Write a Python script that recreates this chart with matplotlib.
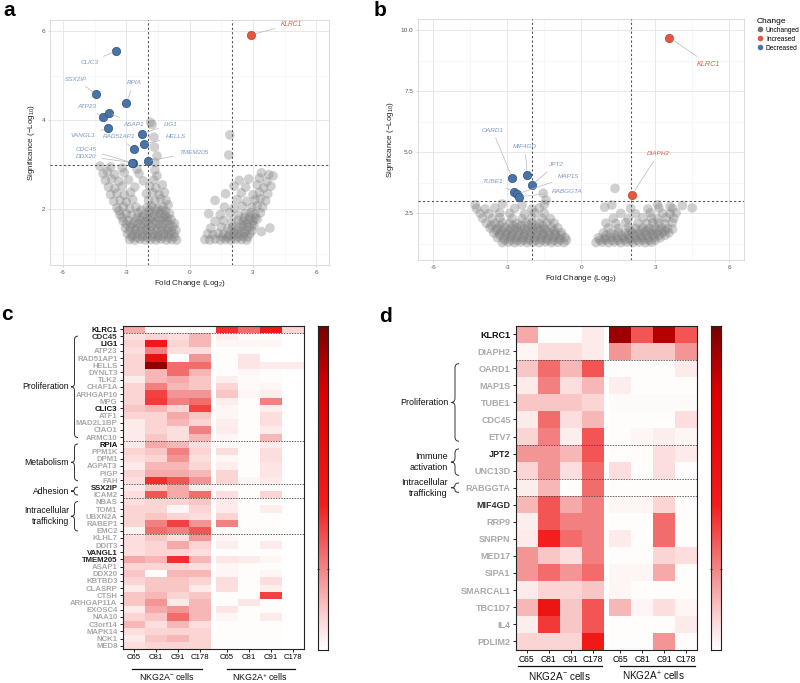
import numpy as np
import matplotlib
matplotlib.use("Agg")
import matplotlib.pyplot as plt
import matplotlib.transforms as mtransforms
from matplotlib.colors import LinearSegmentedColormap, FuncNorm
from matplotlib.path import Path
from matplotlib.patches import PathPatch
from matplotlib.lines import Line2D

plt.rcParams['font.family'] = ['Liberation Sans', 'DejaVu Sans']
plt.rcParams['mathtext.fontset'] = 'custom'
plt.rcParams['mathtext.rm'] = 'Liberation Sans'
plt.rcParams['mathtext.it'] = 'Liberation Sans:italic'
plt.rcParams['mathtext.bf'] = 'Liberation Sans:bold'

# ---------------- DATA: volcano a ----------------
a_genes = ['KLRC1', 'CLIC3', 'SSX2IP', 'RPIA', 'ATP23', 'ASAP1', 'VANGL1', 'LIG1',
           'HELLS', 'RAD51AP1', 'CDC45', 'DDX20', 'TMEM205']
a_fc = [2.91, -3.49, -4.44, -3.00, -4.10, -3.84, -3.89, -2.26, -2.18, -2.65, -2.70, -2.72, -2.00]
a_sig = [5.92, 5.56, 4.58, 4.39, 4.07, 4.17, 3.82, 3.70, 3.46, 3.35, 3.04, 3.05, 3.08]
a_change = ['Increased'] + ['Decreased'] * 12
a_gray = [
    (-2.85, 1.32), (-2.6, 1.31), (-2.35, 1.33), (-2.1, 1.31), (-1.85, 1.32), (-1.6, 1.31), (-1.35, 1.33),
    (-1.1, 1.31), (-0.85, 1.32), (-0.62, 1.31),
    (-2.75, 1.38), (-2.5, 1.37), (-2.25, 1.39), (-2.0, 1.37), (-1.75, 1.38), (-1.5, 1.37), (-1.25, 1.39),
    (-1.0, 1.37), (-0.72, 1.38),
    (-2.95, 1.45), (-2.72, 1.42), (-2.48, 1.46), (-2.22, 1.43), (-1.98, 1.47), (-1.72, 1.44), (-1.48, 1.42),
    (-1.22, 1.46), (-0.98, 1.43), (-0.75, 1.45),
    (-2.85, 1.52), (-2.6, 1.53), (-2.35, 1.51), (-2.1, 1.53), (-1.85, 1.52), (-1.6, 1.51), (-1.35, 1.53),
    (-1.1, 1.52), (-0.88, 1.5), (-0.65, 1.53),
    (-3.05, 1.58), (-2.8, 1.6), (-2.55, 1.57), (-2.3, 1.61), (-2.05, 1.58), (-1.8, 1.62), (-1.55, 1.57),
    (-1.3, 1.6), (-1.05, 1.58), (-0.8, 1.61),
    (-3.0, 1.67), (-2.72, 1.66), (-2.45, 1.68), (-2.2, 1.66), (-1.95, 1.67), (-1.7, 1.68), (-1.45, 1.66),
    (-1.2, 1.68), (-0.95, 1.66), (-0.72, 1.68),
    (-3.15, 1.73), (-2.9, 1.75), (-2.62, 1.72), (-2.35, 1.76), (-2.08, 1.73), (-1.85, 1.78), (-1.6, 1.72),
    (-1.35, 1.76), (-1.1, 1.74), (-0.88, 1.77),
    (-3.2, 1.82), (-2.5, 1.81), (-2.25, 1.83), (-2.0, 1.81), (-1.75, 1.83), (-1.5, 1.81), (-1.25, 1.82),
    (-1.05, 1.81),
    (-3.3, 1.88), (-3.0, 1.9), (-2.75, 1.87), (-2.45, 1.92), (-2.15, 1.88), (-1.92, 1.93), (-1.68, 1.88),
    (-1.42, 1.91), (-1.18, 1.87), (-0.95, 1.9),
    (-3.35, 1.97), (-2.3, 1.98), (-1.9, 1.99), (-1.6, 1.97), (-1.35, 1.98), (-1.15, 1.96),
    (-3.45, 2.03), (-3.15, 2.06), (-2.85, 2.02), (-2.55, 2.05), (-2.02, 2.04), (-1.8, 2.07), (-1.52, 2.02),
    (-1.25, 2.05), (-1.02, 2.1),
    (-3.6, 2.18), (-3.3, 2.2), (-3.0, 2.17), (-2.7, 2.22), (-1.95, 2.2), (-1.65, 2.18), (-1.38, 2.23), (-1.12, 2.2),
    (-3.75, 2.33), (-3.45, 2.36), (-3.1, 2.32), (-2.8, 2.38), (-2.05, 2.35), (-1.75, 2.37), (-1.45, 2.33),
    (-1.2, 2.38),
    (-3.85, 2.5), (-3.55, 2.47), (-3.2, 2.52), (-2.6, 2.5), (-1.9, 2.52), (-1.6, 2.48), (-1.3, 2.55),
    (-4.0, 2.65), (-3.7, 2.68), (-3.35, 2.63), (-2.9, 2.66), (-2.2, 2.64), (-1.7, 2.66),
    (-4.1, 2.8), (-3.9, 2.85), (-3.55, 2.78), (-3.1, 2.82), (-2.4, 2.8), (-1.55, 2.75),
    (-4.25, 2.97), (-3.75, 2.95), (-3.2, 2.93), (-2.5, 2.9), (-1.65, 2.88),
    (-1.85, 3.95), (-1.78, 3.9), (-1.7, 3.62), (-1.68, 3.4), (-1.55, 3.2), (-1.65, 3.05),
    (0.72, 1.32), (0.95, 1.31), (1.2, 1.33), (1.45, 1.31), (1.7, 1.32), (1.95, 1.31), (2.2, 1.33),
    (2.45, 1.32), (2.7, 1.31),
    (0.85, 1.45), (1.1, 1.43), (1.35, 1.46), (1.6, 1.44), (1.85, 1.42), (2.1, 1.46), (2.35, 1.44),
    (2.6, 1.47), (2.85, 1.45), (3.4, 1.5),
    (1.55, 1.38), (1.8, 1.37), (2.05, 1.39), (2.3, 1.38), (2.55, 1.39), (2.75, 1.38),
    (1.0, 1.58), (1.5, 1.6), (1.8, 1.57), (2.05, 1.61), (2.3, 1.58), (2.55, 1.62), (2.8, 1.6),
    (3.05, 1.63), (3.8, 1.58),
    (1.95, 1.52), (2.2, 1.53), (2.45, 1.51), (2.7, 1.53), (2.95, 1.52),
    (1.2, 1.73), (1.6, 1.75), (2.0, 1.72), (2.3, 1.76), (2.55, 1.73), (2.8, 1.77), (3.0, 1.74), (3.2, 1.78),
    (2.45, 1.67), (2.7, 1.68), (2.95, 1.66), (2.6, 1.82), (2.85, 1.83), (3.1, 1.81),
    (0.9, 1.9), (1.45, 1.88), (1.9, 1.92), (2.3, 1.87), (2.65, 1.9), (2.9, 1.93), (3.1, 1.89), (3.35, 1.92),
    (1.65, 2.05), (2.1, 2.03), (2.5, 2.07), (2.95, 2.04), (3.2, 2.08), (3.45, 2.05),
    (1.2, 2.2), (2.25, 2.22), (2.7, 2.18), (3.1, 2.21), (3.35, 2.24), (3.6, 2.19),
    (1.7, 2.35), (2.45, 2.37), (3.0, 2.33), (3.3, 2.38), (3.7, 2.35),
    (2.1, 2.52), (2.65, 2.5), (3.2, 2.55), (3.5, 2.48), (3.85, 2.52),
    (2.35, 2.65), (2.8, 2.68), (3.3, 2.7), (3.65, 2.62),
    (3.4, 2.82), (3.75, 2.78), (3.95, 2.75),
    (1.9, 3.67), (1.85, 3.22),
]

# ---------------- DATA: volcano b ----------------
b_genes = ['KLRC1', 'DIAPH2', 'OARD1', 'MIF4GD', 'JPT2', 'TUBE1', 'MAP1S', 'RABGGTA']
b_fc = [3.57, 2.05, -2.79, -2.19, -2.00, -2.72, -2.62, -2.52]
b_sig = [9.69, 3.25, 3.93, 4.07, 3.66, 3.38, 3.28, 3.17]
b_change = ['Increased', 'Increased'] + ['Decreased'] * 6
b_gray = [
    (-3.2, 1.3), (-2.95, 1.32), (-2.7, 1.3), (-2.45, 1.33), (-2.2, 1.3), (-1.95, 1.32), (-1.7, 1.3),
    (-1.45, 1.33), (-1.2, 1.3), (-0.95, 1.32), (-0.7, 1.3),
    (-3.1, 1.4), (-2.85, 1.41), (-2.6, 1.39), (-2.35, 1.41), (-2.1, 1.4), (-1.85, 1.39), (-1.6, 1.41),
    (-1.35, 1.4), (-1.1, 1.39), (-0.85, 1.41), (-0.6, 1.4),
    (-3.4, 1.5), (-3.15, 1.48), (-2.9, 1.52), (-2.65, 1.49), (-2.4, 1.51), (-2.15, 1.48), (-1.9, 1.52),
    (-1.65, 1.5), (-1.4, 1.48), (-1.15, 1.52), (-0.9, 1.49), (-0.65, 1.51),
    (-3.3, 1.6), (-3.05, 1.61), (-2.8, 1.59), (-2.55, 1.6), (-2.3, 1.61), (-2.05, 1.59), (-1.8, 1.6),
    (-1.55, 1.61), (-1.3, 1.59), (-1.05, 1.6), (-0.8, 1.61),
    (-3.55, 1.7), (-3.3, 1.68), (-3.05, 1.72), (-2.8, 1.69), (-2.55, 1.71), (-2.3, 1.68), (-2.05, 1.72),
    (-1.8, 1.7), (-1.55, 1.68), (-1.3, 1.72), (-1.05, 1.69), (-0.8, 1.71),
    (-3.45, 1.8), (-3.2, 1.81), (-2.95, 1.79), (-2.7, 1.8), (-2.45, 1.81), (-2.2, 1.79), (-1.95, 1.8),
    (-1.65, 1.81), (-1.4, 1.79), (-1.1, 1.8),
    (-3.7, 1.9), (-3.4, 1.88), (-3.1, 1.92), (-2.85, 1.89), (-2.6, 1.91), (-2.3, 1.88), (-2.0, 1.92),
    (-1.75, 1.9), (-1.5, 1.88), (-1.2, 1.92), (-0.95, 1.9),
    (-3.85, 2.1), (-3.5, 2.08), (-3.2, 2.12), (-2.9, 2.1), (-2.6, 2.08), (-2.25, 2.12), (-2.0, 2.1),
    (-1.7, 2.08), (-1.4, 2.12), (-1.1, 2.1),
    (-3.65, 2.0), (-3.3, 2.01), (-2.75, 2.0), (-2.45, 1.99), (-2.15, 2.01), (-1.85, 2.0), (-1.55, 1.99),
    (-4.0, 2.3), (-3.6, 2.28), (-3.3, 2.32), (-2.8, 2.3), (-2.4, 2.28), (-2.0, 2.32), (-1.6, 2.3), (-1.25, 2.28),
    (-4.1, 2.5), (-3.75, 2.48), (-3.3, 2.52), (-2.9, 2.5), (-2.3, 2.48), (-1.9, 2.52), (-1.5, 2.5),
    (-4.25, 2.7), (-3.9, 2.68), (-3.5, 2.72), (-2.7, 2.7), (-2.0, 2.68), (-1.7, 2.72),
    (-4.3, 2.85), (-3.2, 2.88), (-2.4, 2.84), (-1.5, 2.86),
    (-1.54, 3.32), (-1.43, 3.04),
    (0.6, 1.3), (0.85, 1.32), (1.1, 1.3), (1.35, 1.33), (1.6, 1.3), (1.85, 1.32), (2.1, 1.3), (2.35, 1.33),
    (2.6, 1.3), (2.85, 1.32),
    (0.75, 1.4), (1.0, 1.41), (1.25, 1.39), (1.5, 1.4), (1.75, 1.41), (2.0, 1.39), (2.25, 1.4), (2.5, 1.41),
    (2.75, 1.39), (3.0, 1.4),
    (0.7, 1.5), (0.95, 1.48), (1.2, 1.52), (1.45, 1.49), (1.7, 1.51), (1.95, 1.48), (2.2, 1.52), (2.45, 1.5),
    (2.7, 1.48), (2.95, 1.52), (3.2, 1.5),
    (1.0, 1.6), (1.35, 1.61), (1.65, 1.59), (1.9, 1.6), (2.15, 1.61), (2.4, 1.59), (2.65, 1.6), (2.9, 1.61),
    (3.15, 1.59), (3.4, 1.6),
    (0.9, 1.7), (1.2, 1.68), (1.5, 1.72), (1.8, 1.69), (2.05, 1.71), (2.3, 1.68), (2.55, 1.72), (2.8, 1.7),
    (3.05, 1.68), (3.3, 1.72), (3.55, 1.7),
    (2.0, 1.8), (2.4, 1.81), (2.65, 1.79), (2.9, 1.8), (3.15, 1.81), (3.4, 1.79),
    (1.1, 1.9), (1.5, 1.88), (1.9, 1.92), (2.2, 1.89), (2.5, 1.91), (2.75, 1.88), (3.0, 1.92), (3.25, 1.9),
    (3.5, 1.88),
    (1.0, 2.1), (1.4, 2.08), (1.8, 2.12), (2.3, 2.1), (2.65, 2.08), (2.9, 2.12), (3.15, 2.1), (3.4, 2.08),
    (3.7, 2.12),
    (1.3, 2.3), (1.9, 2.28), (2.5, 2.32), (2.85, 2.3), (3.1, 2.28), (3.45, 2.32), (3.75, 2.3),
    (1.6, 2.5), (2.2, 2.48), (2.8, 2.52), (3.3, 2.5), (3.6, 2.48), (3.85, 2.52),
    (2.0, 2.7), (2.7, 2.68), (3.15, 2.72), (3.7, 2.7),
    (3.1, 2.85), (3.6, 2.78), (4.1, 2.82), (4.5, 2.72), (3.7, 1.85), (1.37, 3.52), (0.95, 2.75), (1.24, 2.84),
]

# ---------------- DATA: heatmap c ----------------
columns = ['C65', 'C81', 'C91', 'C178', 'C65', 'C81', 'C91', 'C178']
c_genes = ['KLRC1', 'CDC45', 'LIG1', 'ATP23', 'RAD51AP1', 'HELLS', 'DYNLT3', 'TLK2', 'CHAF1A', 'ARHGAP10',
           'MPG', 'CLIC3', 'ATF1', 'MAD2L1BP', 'CIAO1', 'ARMC10', 'RPIA', 'PPM1K', 'DPM1', 'AGPAT3', 'PIGP',
           'FAH', 'SSX2IP', 'ICAM2', 'NBAS', 'TOM1', 'UBXN2A', 'RABEP1', 'EMC2', 'KLHL7', 'DDIT3', 'VANGL1',
           'TMEM205', 'ASAP1', 'DDX20', 'KBTBD3', 'CLASRP', 'CTSH', 'ARHGAP11A', 'EXOSC4', 'NAA10', 'C3orf14',
           'MAPK14', 'NCK1', 'MED8']
c_values = [
    [0.35, 0.02, 0.02, 0.02, 0.65, 0.50, 0.68, 0.20],
    [0.15, 0.20, 0.15, 0.30, 0.08, 0.03, 0.03, 0.00],
    [0.20, 0.68, 0.20, 0.30, 0.05, 0.05, 0.05, 0.00],
    [0.15, 0.45, 0.15, 0.15, 0.02, 0.02, 0.00, 0.00],
    [0.20, 0.72, 0.02, 0.40, 0.02, 0.12, 0.00, 0.00],
    [0.20, 0.92, 0.50, 0.50, 0.02, 0.12, 0.10, 0.10],
    [0.20, 0.30, 0.50, 0.30, 0.02, 0.05, 0.02, 0.00],
    [0.10, 0.30, 0.35, 0.25, 0.08, 0.03, 0.02, 0.00],
    [0.20, 0.45, 0.30, 0.25, 0.20, 0.03, 0.05, 0.00],
    [0.20, 0.60, 0.40, 0.40, 0.25, 0.05, 0.08, 0.00],
    [0.20, 0.62, 0.45, 0.50, 0.08, 0.02, 0.45, 0.00],
    [0.25, 0.30, 0.20, 0.60, 0.05, 0.02, 0.08, 0.00],
    [0.20, 0.20, 0.35, 0.25, 0.05, 0.02, 0.15, 0.00],
    [0.10, 0.20, 0.30, 0.20, 0.08, 0.02, 0.15, 0.00],
    [0.10, 0.20, 0.15, 0.45, 0.10, 0.02, 0.10, 0.00],
    [0.10, 0.25, 0.15, 0.30, 0.05, 0.02, 0.30, 0.00],
    [0.10, 0.35, 0.30, 0.15, 0.02, 0.02, 0.10, 0.00],
    [0.20, 0.25, 0.45, 0.20, 0.15, 0.02, 0.15, 0.00],
    [0.15, 0.20, 0.40, 0.15, 0.05, 0.02, 0.15, 0.00],
    [0.10, 0.30, 0.30, 0.20, 0.08, 0.02, 0.12, 0.00],
    [0.20, 0.35, 0.35, 0.30, 0.20, 0.02, 0.12, 0.00],
    [0.15, 0.65, 0.55, 0.40, 0.20, 0.05, 0.10, 0.00],
    [0.10, 0.25, 0.35, 0.10, 0.02, 0.02, 0.02, 0.00],
    [0.15, 0.55, 0.35, 0.50, 0.15, 0.02, 0.20, 0.00],
    [0.15, 0.20, 0.20, 0.25, 0.10, 0.02, 0.02, 0.00],
    [0.20, 0.20, 0.05, 0.20, 0.10, 0.02, 0.08, 0.00],
    [0.20, 0.25, 0.20, 0.15, 0.20, 0.02, 0.02, 0.00],
    [0.20, 0.45, 0.60, 0.40, 0.45, 0.02, 0.02, 0.00],
    [0.05, 0.50, 0.45, 0.55, 0.02, 0.02, 0.02, 0.00],
    [0.15, 0.25, 0.15, 0.40, 0.05, 0.02, 0.02, 0.00],
    [0.15, 0.20, 0.35, 0.20, 0.08, 0.02, 0.10, 0.00],
    [0.15, 0.20, 0.20, 0.15, 0.02, 0.02, 0.02, 0.00],
    [0.35, 0.30, 0.65, 0.30, 0.12, 0.10, 0.05, 0.00],
    [0.20, 0.20, 0.20, 0.15, 0.05, 0.02, 0.02, 0.00],
    [0.25, 0.02, 0.30, 0.30, 0.05, 0.02, 0.05, 0.00],
    [0.20, 0.25, 0.25, 0.20, 0.15, 0.02, 0.15, 0.00],
    [0.10, 0.25, 0.25, 0.10, 0.15, 0.02, 0.08, 0.00],
    [0.25, 0.30, 0.20, 0.25, 0.02, 0.02, 0.60, 0.00],
    [0.25, 0.40, 0.10, 0.30, 0.02, 0.12, 0.02, 0.00],
    [0.10, 0.35, 0.40, 0.30, 0.12, 0.02, 0.02, 0.00],
    [0.20, 0.25, 0.50, 0.30, 0.05, 0.02, 0.10, 0.00],
    [0.30, 0.15, 0.30, 0.15, 0.02, 0.02, 0.02, 0.00],
    [0.15, 0.20, 0.20, 0.20, 0.02, 0.02, 0.02, 0.00],
    [0.10, 0.25, 0.30, 0.20, 0.02, 0.02, 0.02, 0.00],
    [0.15, 0.20, 0.20, 0.20, 0.02, 0.02, 0.02, 0.00],
]
c_highlight = {'KLRC1': '#111111', 'CDC45': '#333333', 'LIG1': '#111111', 'CLIC3': '#111111',
               'RPIA': '#111111', 'SSX2IP': '#222222', 'VANGL1': '#222222', 'TMEM205': '#222222'}
c_categories = [('Proliferation', 1, 16), ('Metabolism', 16, 22), ('Adhesion', 22, 24),
                ('Intracellular\ntrafficking', 24, 29)]
c_separators = [1, 16, 22, 24, 29]

# ---------------- DATA: heatmap d ----------------
d_genes = ['KLRC1', 'DIAPH2', 'OARD1', 'MAP1S', 'TUBE1', 'CDC45', 'ETV7', 'JPT2', 'UNC13D', 'RABGGTA',
           'MIF4GD', 'RRP9', 'SNRPN', 'MED17', 'SIPA1', 'SMARCAL1', 'TBC1D7', 'IL4', 'PDLIM2']
d_values = [
    [0.35, 0.02, 0.02, 0.10, 0.90, 0.55, 0.86, 0.55],
    [0.05, 0.15, 0.15, 0.10, 0.40, 0.25, 0.25, 0.40],
    [0.25, 0.50, 0.30, 0.55, 0.02, 0.02, 0.02, 0.10],
    [0.10, 0.45, 0.15, 0.30, 0.08, 0.02, 0.02, 0.02],
    [0.25, 0.25, 0.25, 0.20, 0.03, 0.03, 0.03, 0.03],
    [0.10, 0.50, 0.15, 0.30, 0.02, 0.02, 0.02, 0.15],
    [0.20, 0.45, 0.08, 0.55, 0.02, 0.05, 0.08, 0.05],
    [0.40, 0.40, 0.30, 0.55, 0.02, 0.02, 0.15, 0.10],
    [0.20, 0.40, 0.15, 0.50, 0.15, 0.02, 0.15, 0.02],
    [0.08, 0.30, 0.02, 0.50, 0.02, 0.02, 0.02, 0.02],
    [0.30, 0.55, 0.35, 0.45, 0.05, 0.05, 0.20, 0.02],
    [0.08, 0.55, 0.45, 0.45, 0.02, 0.02, 0.50, 0.02],
    [0.10, 0.66, 0.50, 0.45, 0.10, 0.02, 0.50, 0.02],
    [0.40, 0.25, 0.15, 0.45, 0.02, 0.02, 0.20, 0.15],
    [0.40, 0.50, 0.40, 0.50, 0.05, 0.05, 0.35, 0.02],
    [0.10, 0.20, 0.20, 0.25, 0.05, 0.02, 0.02, 0.02],
    [0.30, 0.70, 0.25, 0.55, 0.30, 0.05, 0.15, 0.05],
    [0.08, 0.62, 0.25, 0.55, 0.02, 0.02, 0.02, 0.10],
    [0.20, 0.20, 0.20, 0.68, 0.02, 0.02, 0.40, 0.02],
]
d_highlight = {'KLRC1': '#111111', 'JPT2': '#222222', 'MIF4GD': '#333333'}
d_categories = [('Proliferation', 2, 7), ('Immune\nactivation', 7, 9), ('Intracellular\ntrafficking', 9, 10)]
d_separators = [2, 7, 9, 10]

groups = ['NKG2A$^{-}$ cells', 'NKG2A$^{+}$ cells']

# ---------------- STYLE / LAYOUT ----------------
W, H = 800, 683
fig = plt.figure(figsize=(W / 100, H / 100), dpi=100)


def fx(px):
    return px / W


def fy(py):
    return 1 - py / H


colors = {'Unchanged': '#7f7f7f', 'Increased': '#e2583e', 'Decreased': '#4a74a6'}
edge_colors = {'Increased': '#c9402a', 'Decreased': '#2f5483'}
label_colors = {'Increased': '#e2583e', 'Decreased': '#7d97c4'}

a_label_pos = [(4.8, 6.15), (-4.75, 5.29), (-5.37, 4.92), (-2.65, 4.85), (-4.9, 4.3), (-2.65, 3.91),
               (-5.05, 3.65), (-0.92, 3.90), (-0.68, 3.63), (-3.37, 3.63), (-4.9, 3.35), (-4.9, 3.19),
               (0.19, 3.28)]
b_label_pos = [(5.16, 8.6), (3.13, 4.93), (-3.6, 5.9), (-2.28, 5.23), (-1.06, 4.48), (-3.59, 3.79),
               (-0.52, 4.0), (-0.59, 3.41)]


def volcano(ax, gray, genes, fc, sig, change, label_pos, ylim, yt, ytl, ymin, klrc_fs):
    gx = [p[0] for p in gray]
    gy = [p[1] for p in gray]
    ax.scatter(gx, gy, s=48, c=colors['Unchanged'], alpha=0.36, edgecolors='none', zorder=2)
    for g, x, y, ch, pos in zip(genes, fc, sig, change, label_pos):
        ax.scatter([x], [y], s=36, c=colors[ch], edgecolors=edge_colors[ch], linewidths=0.5, zorder=4)
        fs = klrc_fs if g == 'KLRC1' else 4.6
        ax.annotate(g, xy=(x, y), xytext=pos, ha='center', va='center', fontsize=fs, style='italic',
                    color=label_colors[ch], zorder=5,
                    arrowprops=dict(arrowstyle='-', color='#b8b8b8', lw=0.5, shrinkA=2, shrinkB=3))
    ax.axhline(3, color='#555555', lw=0.8, ls=(0, (2, 2)), zorder=3)
    ax.axvline(-2, color='#555555', lw=0.8, ls=(0, (2, 2)), zorder=3)
    ax.axvline(2, color='#555555', lw=0.8, ls=(0, (2, 2)), zorder=3)
    ax.set_xlim(-6.62, 6.6)
    ax.set_ylim(*ylim)
    ax.set_xticks([-6, -3, 0, 3, 6])
    ax.set_xticklabels(['-6', '-3', '0', '3', '6'])
    ax.set_xticks([-4.5, -1.5, 1.5, 4.5], minor=True)
    ax.set_yticks(yt)
    ax.set_yticklabels(ytl)
    ax.set_yticks(ymin, minor=True)
    ax.grid(True, which='major', color='#e4e4e4', lw=0.6)
    ax.grid(True, which='minor', color='#f2f2f2', lw=0.4)
    ax.set_axisbelow(True)
    for s in ax.spines.values():
        s.set_color('#d6d6d6')
        s.set_linewidth(0.6)
    ax.tick_params(which='major', length=1.5, color='#d6d6d6', labelsize=4.6, labelcolor='#555555', pad=2)
    ax.tick_params(which='minor', length=0)
    ax.set_xlabel('Fold Change (Log$_{2}$)', fontsize=5.8, labelpad=2, color='#222222')
    ax.set_ylabel('Significance (\u2212Log$_{10}$)', fontsize=5.8, labelpad=3, color='#222222')


ax_a = fig.add_axes([fx(50), fy(265), fx(329 - 50), (265 - 20) / H])
volcano(ax_a, a_gray, a_genes, a_fc, a_sig, a_change, a_label_pos, (0.75, 6.25),
        [2, 4, 6], ['2', '4', '6'], [1, 3, 5], 4.8)

ax_b = fig.add_axes([fx(418), fy(260), fx(744 - 418), (260 - 19) / H])
volcano(ax_b, b_gray, b_genes, b_fc, b_sig, b_change, b_label_pos, (0.59, 10.45),
        [2.5, 5.0, 7.5, 10.0], ['2.5', '5.0', '7.5', '10.0'], [1.25, 3.75, 6.25, 8.75], 5.2)

handles = [Line2D([], [], marker='o', ls='', markersize=4, color=c, markeredgewidth=0)
           for c in ['#6d7570', colors['Increased'], colors['Decreased']]]
leg = fig.legend(handles, ['Unchanged', 'Increased', 'Decreased'], title='Change',
                 loc='upper left', bbox_to_anchor=(fx(754), fy(15)), frameon=False, fontsize=4.8,
                 title_fontsize=6, handletextpad=0.5, labelspacing=0.3, borderaxespad=0, handlelength=0.9)
leg._legend_box.align = 'left'

# ---------------- heatmaps ----------------
# colour scale as seen on the reference colour bar
cmap = LinearSegmentedColormap.from_list(
    'wr', [(0, '#ffffff'), (0.1, '#fbd3d3'), (0.25, '#f28585'), (0.45, '#f41c1c'),
           (0.8, '#dc0000'), (1.0, '#760000')])
# the cell values above were estimated on a shade scale; this maps them onto the colour bar scale
shade_levels = [0, 0.2, 0.35, 0.5, 0.65, 0.8, 0.92, 1.0]
bar_levels = [0, 0.1, 0.18, 0.3, 0.42, 0.8, 0.95, 1.0]
norm = FuncNorm((lambda v: np.interp(v, shade_levels, bar_levels),
                 lambda v: np.interp(v, bar_levels, shade_levels)), vmin=0, vmax=1)
GAP = 0.25


def heatmap(ax, cax, genes, values, highlight, cats, seps, lab_fs, xt_fs, brace_x, brace_w, brace_d,
            cat_x, cat_fs, line_spans, line_y, text_y, grp_fs):
    vals = np.asarray(values, dtype=float)
    n = len(genes)
    ye = np.arange(n + 1)
    ax.pcolormesh(np.arange(5), ye, vals[:, :4], cmap=cmap, norm=norm, shading='flat')
    ax.pcolormesh(np.arange(5) + 4 + GAP, ye, vals[:, 4:], cmap=cmap, norm=norm, shading='flat')
    ax.set_xlim(0, 8 + GAP)
    ax.set_ylim(n, 0)
    centers = [i + 0.5 for i in range(4)] + [i + 4.5 + GAP for i in range(4)]
    ax.set_xticks(centers)
    ax.set_xticklabels(columns, fontsize=xt_fs)
    ax.set_yticks(np.arange(n) + 0.5)
    ax.set_yticklabels(genes, fontsize=lab_fs, fontweight='bold')
    for t, g in zip(ax.get_yticklabels(), genes):
        t.set_color(highlight.get(g, '#a9a9a9'))
    ax.tick_params(axis='y', length=2.2, width=0.6, pad=1.5)
    ax.tick_params(axis='x', length=2, width=0.6, pad=1.5)
    for s in ax.spines.values():
        s.set_color('#222222')
        s.set_linewidth(0.8)
    for s in seps:
        ax.axhline(s, color='#444444', lw=0.55, ls=(0, (2, 1.5)))
    tr = mtransforms.blended_transform_factory(fig.transFigure, ax.transData)
    for name, y0, y1 in cats:
        inset = brace_d * 0.9
        a0, a1 = y0 + inset, y1 - inset
        xm = brace_x + brace_w / 2
        ym = (a0 + a1) / 2
        d = min(brace_d, (a1 - a0) / 4)
        verts = [(brace_x + brace_w, a0), (xm, a0), (xm, a0 + d),
                 (xm, ym - d), (xm, ym), (brace_x, ym),
                 (xm, ym), (xm, ym + d),
                 (xm, a1 - d), (xm, a1), (brace_x + brace_w, a1)]
        codes = [Path.MOVETO, Path.CURVE3, Path.CURVE3, Path.LINETO, Path.CURVE3, Path.CURVE3,
                 Path.CURVE3, Path.CURVE3, Path.LINETO, Path.CURVE3, Path.CURVE3]
        patch = PathPatch(Path(verts, codes), transform=tr, fill=False, lw=0.7, color='#333333',
                          clip_on=False)
        fig.add_artist(patch)
        ax.text(cat_x, (y0 + y1) / 2, name, transform=tr, ha='right', va='center', fontsize=cat_fs,
                color='#111111', linespacing=1.25)
    trg = mtransforms.blended_transform_factory(ax.transData, fig.transFigure)
    for (x0, x1), label, cx in zip(line_spans, groups, [2, 6 + GAP]):
        ax.plot([x0, x1], [line_y, line_y], transform=trg, color='#111111', lw=0.9, clip_on=False)
        ax.text(cx, text_y, label, transform=trg, ha='center', va='center', fontsize=grp_fs,
                color='#111111')
    # colour bar
    cax.imshow(np.linspace(0, 1, 256)[:, None], aspect='auto', cmap=cmap, origin='lower',
               extent=[0, 1, 0, 1])
    cax.set_xticks([])
    cax.set_yticks([0.25])
    cax.set_yticklabels([])
    cax.tick_params(axis='y', left=True, right=True, length=2, width=0.6, direction='inout')
    for s in cax.spines.values():
        s.set_color('#222222')
        s.set_linewidth(0.8)


ax_c = fig.add_axes([fx(122.7), fy(649.3), fx(304 - 122.7), (649.3 - 325.7) / H])
cax_c = fig.add_axes([fx(318), fy(650), fx(9.7), (650 - 326) / H])
heatmap(ax_c, cax_c, c_genes, c_values, c_highlight, c_categories, c_separators, 5.6, 5.6,
        fx(71), fx(7), 0.5, fx(69), 6.2, [(0.42, 3.59), (4.73, 7.83)], fy(669), fy(677), 6.4)

ax_d = fig.add_axes([fx(515.7), fy(649.7), fx(697.3 - 515.7), (649.7 - 325.7) / H])
cax_d = fig.add_axes([fx(711), fy(649.7), fx(9.7), (649.7 - 325.7) / H])
heatmap(ax_d, cax_d, d_genes, d_values, d_highlight, d_categories, d_separators, 6.5, 6.2,
        fx(451), fx(8), 0.25, fx(448), 6.5, [(0.1, 3.9), (4.72, 8.13)], fy(666), fy(676), 7.2)

# panel letters
for letter, x, y in [('a', 9, 10), ('b', 380, 10), ('c', 7, 315), ('d', 386, 316)]:
    fig.text(fx(x), fy(y), letter, fontsize=15, fontweight='bold', ha='center', va='center')

fig.savefig('out.png', dpi=100)
